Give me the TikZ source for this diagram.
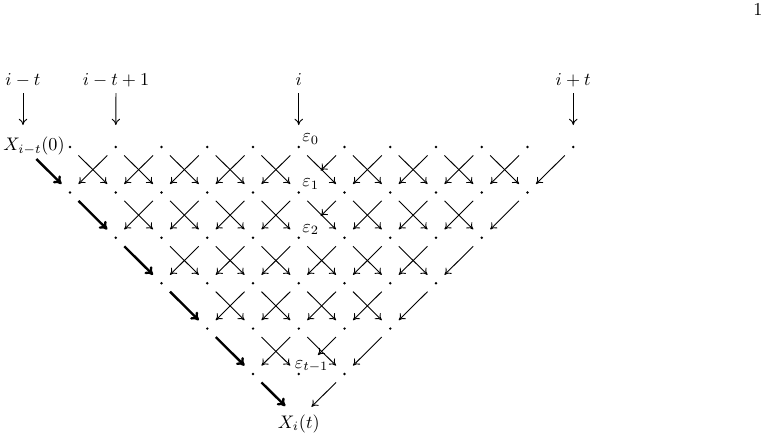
\documentclass[tikz,border=0pt]{standalone}
\usetikzlibrary{arrows.meta}
\begin{document}
\begin{tikzpicture}[x=0.55pt,y=-0.55pt,
  dotn/.style={circle,fill=black,inner sep=0pt,minimum size=1.5pt},
  thinarr/.style={-{To[length=3.4pt,width=4.6pt]},line width=0.5pt},
  thickarr/.style={-{To[length=4.2pt,width=5.6pt]},line width=1.3pt},
  lab/.style={anchor=base,inner sep=0pt},
  epsn/.style={anchor=base west,inner sep=0pt}]
\useasboundingbox (0,0) rectangle (764,436);
% lattice positions
\foreach \r in {0,...,6}
  \foreach \c in {-1,...,11}
    \coordinate (p-\r-\c) at ({70+45.75*\c},{147+45.4*\r});
% dots
\foreach \r/\a/\b in {0/0/11,1/0/10,2/1/9,3/2/8,4/3/7,5/4/6}
  \foreach \c in {\a,...,\b}
    \node[dotn] (d-\r-\c) at (p-\r-\c) {};
% top labels
\node[lab] (lmt) at (23,85) {$i-t$};
\node[lab] (lmt1) at (116,85) {$i-t+1$};
\node[lab] (li) at (298.75,85) {$i$};
\node[lab] (lpt) at (573.25,85) {$i+t$};
\draw[thinarr,shorten <=8*0.55pt,shorten >=22*0.55pt] (lmt.base) -- (lmt.base |- p-0--1);
\draw[thinarr,shorten <=8*0.55pt,shorten >=22*0.55pt] (lmt1.base) -- (p-0-1);
\draw[thinarr,shorten <=8*0.55pt,shorten >=22*0.55pt] (li.base) -- (p-0-5);
\draw[thinarr,shorten <=8*0.55pt,shorten >=22*0.55pt] (lpt.base) -- (p-0-11);
% node labels
\node[anchor=base east,inner sep=0pt] (x0) at (65,150.5) {$X_{i-t}(0)$};
\node[lab] (xit) at (298.75,428) {$X_i(t)$};
\node[epsn] (e0) at (302,141.5) {$\varepsilon_0$};
\node[epsn] (e1) at (302,186.5) {$\varepsilon_1$};
\node[epsn] (e2) at (302,232) {$\varepsilon_2$};
\node[epsn] (et) at (294.5,368) {$\varepsilon_{t-1}$};
\node[lab] (pg) at (758,15) {1};
% crosses
\foreach \r/\a/\b in {0/0/9,1/1/8,2/2/7,3/3/6,4/4/5}
  \foreach \c in {\a,...,\b} {
    \pgfmathtruncatemacro\n{\c+1}
    \pgfmathtruncatemacro\s{\r+1}
    \pgfmathsetmacro\sh{(\c==5)*((\r==0)+(\r==1))*19+(\c==5)*(\r==4)*15+12}
    \draw[thinarr,shorten <=12*0.55pt,shorten >=12*0.55pt] (p-\r-\c) -- (p-\s-\n);
    \draw[thinarr,shorten <=12*0.55pt,shorten >=\sh*0.55pt] (p-\r-\n) -- (p-\s-\c);
  }
% single right-edge arrows
\foreach \r in {0,...,5} {
  \pgfmathtruncatemacro\s{\r+1}
  \pgfmathtruncatemacro\a{11-\r}
  \pgfmathtruncatemacro\b{10-\r}
  \pgfmathsetmacro\sh{(\r==5)*6+12}
  \draw[thinarr,shorten <=12*0.55pt,shorten >=\sh*0.55pt] (p-\r-\a) -- (p-\s-\b);
}
% thick left-edge arrows
\foreach \r in {0,...,5} {
  \pgfmathtruncatemacro\s{\r+1}
  \pgfmathtruncatemacro\a{\r-1}
  \pgfmathsetmacro\sa{(\r==0)*5+12}
  \pgfmathsetmacro\sb{(\r==5)*7+12}
  \draw[thickarr,shorten <=\sa*0.55pt,shorten >=\sb*0.55pt] (p-\r-\a) -- (p-\s-\r);
}
\end{tikzpicture}
\end{document}
